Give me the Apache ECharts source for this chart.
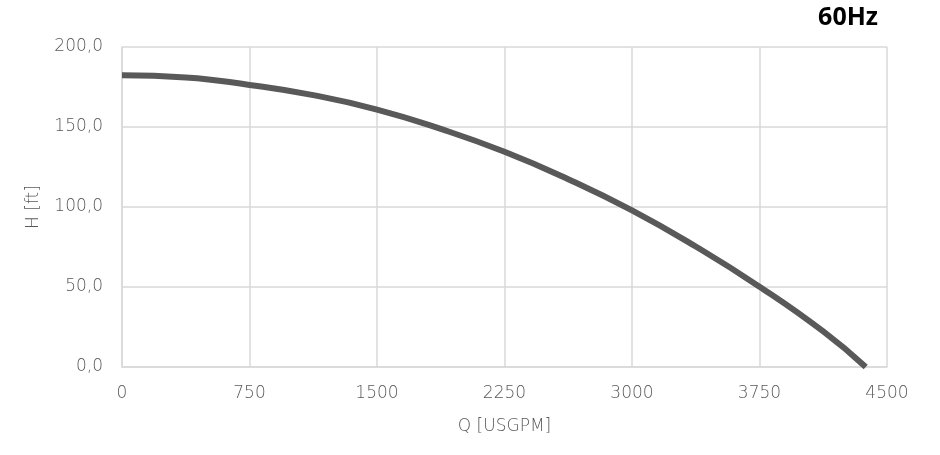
<!DOCTYPE html>
<html>
  <head>
    <meta charset="utf-8" />
    <script src="https://cdn.jsdelivr.net/npm/echarts@6/dist/echarts.min.js"></script>
    <style>
      html, body { margin: 0; padding: 0; background: #fff; }
    </style>
  </head>
  <body>
    <div id="main" style="width: 940px;height:455px;"></div>
    <script type="text/javascript">
      var myChart = echarts.init(document.getElementById('main'));

      // pump curve
      const flowQ = [0, 375, 750, 1125, 1500, 1875, 2250, 2625, 3000, 3375, 3750, 4125, 4375];
      const headH = [182.3, 181.0, 176.3, 169.9, 160.9, 148.8, 134.5, 117.4, 97.9, 75.3, 50.2, 22.2, 0];
      const titleText = '60Hz';
      const xName = 'Q [USGPM]';
      const yName = 'H [ft]';

      const labelColor = '#595959';
      const gridColor = '#d9d9d9';
      const labelFont = 'DejaVu Sans';

      let curve = flowQ.map((q, i) => [q, headH[i]]);

      const txt = { color: labelColor, fontFamily: labelFont, fontWeight: 200, fontSize: 17 };

      option = {
        animation: false,
        backgroundColor: '#fff',
        title: {
          text: titleText,
          right: 57,
          top: 0,
          textStyle: {
            fontFamily: 'Open Sans',
            fontWeight: 'bold',
            fontSize: 25,
            color: '#000'
          }
        },
        grid: {
          left: 122,
          right: 53,
          top: 47,
          bottom: 88
        },
        xAxis: {
          type: 'value',
          min: 0,
          max: 4500,
          interval: 750,
          name: xName,
          nameLocation: 'middle',
          nameGap: 51,
          nameTextStyle: txt,
          axisLine: { show: true, lineStyle: { color: gridColor, width: 1.5 } },
          axisTick: { show: false },
          axisLabel: Object.assign({ margin: 18, formatter: function (v) { return String(v); } }, txt),
          splitLine: { show: true, lineStyle: { color: gridColor, width: 1.5 } }
        },
        yAxis: {
          type: 'value',
          min: 0,
          max: 200,
          interval: 50,
          name: yName,
          nameLocation: 'middle',
          nameGap: 80,
          nameTextStyle: txt,
          axisLine: { show: true, lineStyle: { color: gridColor, width: 1.5 } },
          axisTick: { show: false },
          axisLabel: Object.assign({
            margin: 19,
            formatter: function (v) { return v.toFixed(1).replace('.', ','); }
          }, txt),
          splitLine: { show: true, lineStyle: { color: gridColor, width: 1.5 } }
        },
        series: [
          { name: 'H',
            type: 'line',
            data: curve,
            smooth: true,
            showSymbol: false,
            lineStyle: { color: '#595959', width: 6 }
          }
        ]
      };

      myChart.setOption(option);
    </script>
  </body>
</html>
